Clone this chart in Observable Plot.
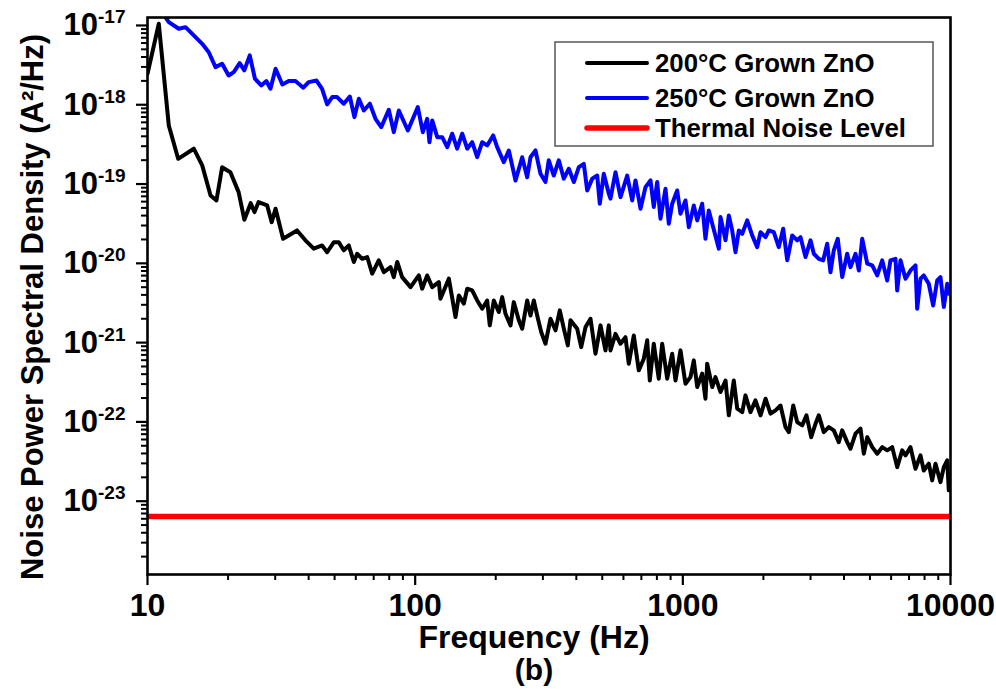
<!DOCTYPE html>
<html>
<head>
<meta charset="utf-8">
<script src="https://cdn.jsdelivr.net/npm/d3@7"></script>
<script src="https://cdn.jsdelivr.net/npm/@observablehq/plot@0.6"></script>
<style>
  html, body { margin: 0; padding: 0; background: #fff; }
  #chart { width: 996px; height: 690px; }
</style>
</head>
<body>
<div id="chart"></div>
<script>
// ---- Data ----
const freq200 = [10, 11.02, 12.01, 13.02, 14.89, 16.01, 17.2, 18.1, 19.0, 20.4,
  21.9, 23.0, 24.3, 25.1, 26.0, 28.0, 29.1, 30.1, 32.1, 36.2,
  38.9, 41.8, 44.9, 46.9, 49.7, 51.8, 54.1, 56.5, 59.0, 60.7,
  63.4, 66.2, 69.1, 73.1, 76.4, 80.9, 83.2, 85.7, 89.4, 96.1,
  103.2, 106.2, 110.9, 115.8, 122.6, 124.3, 133.6, 141.5, 145.6, 152.0,
  156.5, 163.3, 170.5, 178.0, 185.8, 190.0, 196.7, 205.3, 211.4, 217.5,
  227.1, 233.6, 243.9, 251.1, 262.1, 269.7, 277.5, 285.7, 295.7, 306.8,
  320.3, 334.4, 347.0, 359.2, 371.8, 380.5, 403.0, 417.2, 433.0, 451.9,
  471.8, 492.5, 514.0, 529, 536.7, 560.3, 584.9, 610.6, 628.2, 655.8,
  684.7, 714.8, 736.0, 752.6, 778.9, 813.1, 837.3, 874.1, 912.5, 938.9,
  980, 1023, 1068, 1099, 1132, 1181, 1215, 1233, 1288, 1324,
  1383, 1444, 1485, 1550, 1597, 1667, 1714, 1789, 1868, 1951,
  2037, 2126, 2220, 2317, 2419, 2489, 2585, 2675, 2792, 2897,
  3017, 3131, 3221, 3362, 3510, 3664, 3825, 3939, 4111, 4231,
  4418, 4611, 4745, 4886, 5101, 5324, 5558, 5802, 6056, 6322,
  6600, 6790, 7088, 7399, 7724, 7947, 8296, 8543, 8789, 9175,
  9441, 9721, 9854, 10000];
const psd200 = [2.46e-18, 1.05e-17, 5.48e-19, 2.08e-19, 2.79e-19, 1.72e-19, 7.18e-20, 6.21e-20, 1.63e-19, 1.41e-19,
  7.91e-20, 3.55e-20, 5.74e-20, 4.43e-20, 5.92e-20, 5.37e-20, 3.31e-20, 4.89e-20, 2.04e-20, 2.60e-20,
  1.95e-20, 1.53e-20, 1.68e-20, 1.38e-20, 1.85e-20, 1.85e-20, 1.46e-20, 1.68e-20, 1.04e-20, 1.32e-20,
  1.14e-20, 1.20e-20, 7.40e-21, 1.09e-20, 7.74e-21, 8.95e-21, 6.70e-21, 1.04e-20, 6.70e-21, 5.01e-21,
  7.03e-21, 4.79e-21, 7.03e-21, 5.01e-21, 5.79e-21, 3.58e-21, 6.40e-21, 2.10e-21, 3.94e-21, 3.10e-21,
  4.79e-21, 4.55e-21, 3.40e-21, 2.68e-21, 3.40e-21, 1.65e-21, 3.40e-21, 2.43e-21, 3.75e-21, 2.31e-21,
  1.65e-21, 3.24e-21, 1.91e-21, 1.50e-21, 3.40e-21, 2.20e-21, 3.40e-21, 2.20e-21, 1.36e-21, 9.68e-22,
  2.00e-21, 1.43e-21, 2.55e-21, 1.50e-21, 9.23e-22, 1.91e-21, 1.50e-21, 8.77e-22, 1.57e-21, 2.00e-21,
  7.24e-22, 1.65e-21, 7.98e-22, 1.65e-21, 7.98e-22, 1.29e-21, 9.68e-22, 1.17e-21, 5.42e-22, 1.23e-21,
  4.47e-22, 6.27e-22, 1.07e-21, 3.33e-22, 9.68e-22, 3.51e-22, 9.68e-22, 3.51e-22, 7.24e-22, 3.33e-22,
  7.98e-22, 3.03e-22, 3.67e-22, 5.97e-22, 2.75e-22, 4.06e-22, 1.96e-22, 5.42e-22, 2.75e-22, 3.67e-22,
  2.38e-22, 3.33e-22, 1.21e-22, 3.33e-22, 1.47e-22, 1.33e-22, 2.16e-22, 1.33e-22, 1.87e-22, 1.21e-22,
  1.96e-22, 1.27e-22, 1.40e-22, 1.61e-22, 8.59e-23, 7.43e-23, 1.61e-22, 9.93e-23, 9.04e-23, 1.21e-22,
  6.43e-23, 9.48e-23, 1.21e-22, 7.43e-23, 8.59e-23, 7.82e-23, 5.56e-23, 7.82e-23, 5.56e-23, 4.59e-23,
  7.10e-23, 8.20e-23, 3.97e-23, 6.43e-23, 4.81e-23, 3.97e-23, 4.81e-23, 4.38e-23, 4.81e-23, 2.69e-23,
  4.38e-23, 3.78e-23, 4.81e-23, 2.57e-23, 3.78e-23, 2.44e-23, 2.97e-23, 1.83e-23, 2.97e-23, 1.74e-23,
  2.69e-23, 3.27e-23, 1.37e-23, 2.11e-23];

const freq250 = [11.2, 12.01, 13.09, 13.87, 14.89, 16.01, 16.94, 17.95, 19.0, 20.1,
  21.0, 22.1, 23.0, 24.1, 25.2, 26.6, 27.8, 28.8, 30.1, 31.9,
  33.7, 35.7, 38.2, 40.0, 42.8, 44.9, 46.9, 49.0, 51.1, 54.1,
  57.0, 59.3, 61.6, 64.3, 67.7, 71.1, 74.7, 79.7, 83.2, 86.9,
  93.9, 102.3, 106.8, 110.9, 113.1, 115.8, 120.9, 126.2, 131.8, 137.5,
  143.5, 149.9, 156.5, 163.3, 170.5, 178.0, 185.8, 195.6, 202.5, 214.3,
  223.8, 237.1, 251.1, 262.1, 269.7, 281.5, 293.9, 306.8, 315.6, 329.5,
  344.0, 359.2, 375.0, 391.5, 408.7, 426.6, 439.3, 458.6, 478.7, 489.5,
  506.6, 529, 536.7, 560.3, 584.9, 619.6, 646.9, 665.5, 694.8, 725.3,
  757.2, 778.9, 802.1, 825.2, 861.4, 886.4, 912.5, 952.6, 980, 1023,
  1053, 1099, 1132, 1181, 1215, 1250, 1288, 1363, 1383, 1444,
  1485, 1529, 1573, 1619, 1667, 1740, 1816, 1896, 1951, 2037,
  2095, 2187, 2283, 2371, 2455, 2562, 2675, 2752, 2873, 2999,
  3086, 3221, 3345, 3462, 3562, 3664, 3792, 3939, 4111, 4231,
  4418, 4545, 4680, 4886, 5101, 5324, 5558, 5802, 5967, 6229,
  6322, 6504, 6790, 7088, 7399, 7508, 7724, 7947, 8296, 8616,
  8919, 9175, 9441, 9721, 9854, 10000];
const psd250 = [1.55e-17, 1.10e-17, 9.08e-18, 9.52e-18, 7.48e-18, 5.87e-18, 4.60e-18, 2.98e-18, 3.29e-18, 2.34e-18,
  2.58e-18, 3.35e-18, 2.71e-18, 4.19e-18, 2.13e-18, 1.75e-18, 1.99e-18, 1.59e-18, 2.84e-18, 1.80e-18,
  1.99e-18, 1.99e-18, 1.64e-18, 1.93e-18, 2.02e-18, 1.59e-18, 1.01e-18, 1.25e-18, 1.25e-18, 1.03e-18,
  1.27e-18, 6.98e-19, 1.19e-18, 8.47e-19, 1.03e-18, 6.65e-19, 5.22e-19, 8.65e-19, 4.51e-19, 8.47e-19,
  4.74e-19, 9.33e-19, 4.51e-19, 6.65e-19, 3.37e-19, 6.34e-19, 3.90e-19, 3.90e-19, 2.92e-19, 4.31e-19,
  2.79e-19, 4.31e-19, 2.79e-19, 3.37e-19, 2.18e-19, 3.37e-19, 3.07e-19, 4.10e-19, 2.92e-19, 1.89e-19,
  2.65e-19, 1.11e-19, 2.18e-19, 1.22e-19, 2.18e-19, 2.65e-19, 1.35e-19, 1.06e-19, 1.99e-19, 1.28e-19,
  1.99e-19, 1.17e-19, 1.56e-19, 1.06e-19, 1.63e-19, 1.80e-19, 8.30e-20, 1.17e-19, 1.28e-19, 5.65e-20,
  1.35e-19, 7.55e-20, 6.53e-20, 1.41e-19, 6.84e-20, 1.28e-19, 6.21e-20, 1.11e-19, 4.89e-20, 9.14e-20,
  1.11e-19, 5.12e-20, 1.06e-19, 3.65e-20, 8.73e-20, 3.16e-20, 5.65e-20, 8.30e-20, 4.22e-20, 6.21e-20,
  2.86e-20, 5.37e-20, 3.48e-20, 5.65e-20, 2.04e-20, 4.65e-20, 3.16e-20, 1.53e-20, 3.83e-20, 1.95e-20,
  4.02e-20, 2.60e-20, 1.38e-20, 2.60e-20, 2.36e-20, 3.48e-20, 2.25e-20, 1.60e-20, 2.47e-20, 2.14e-20,
  2.60e-20, 2.47e-20, 1.60e-20, 2.73e-20, 1.09e-20, 2.25e-20, 1.95e-20, 2.14e-20, 1.20e-20, 1.95e-20,
  1.32e-20, 1.14e-20, 1.09e-20, 1.77e-20, 7.74e-21, 1.46e-20, 2.04e-20, 6.70e-21, 1.32e-20, 8.95e-21,
  1.32e-20, 8.13e-21, 2.04e-20, 9.89e-21, 9.42e-21, 7.03e-21, 1.09e-20, 6.08e-21, 1.09e-20, 1.14e-20,
  4.55e-21, 1.09e-20, 6.40e-21, 8.13e-21, 9.42e-21, 2.68e-21, 6.40e-21, 7.03e-21, 5.53e-21, 2.94e-21,
  6.08e-21, 6.70e-21, 2.81e-21, 5.53e-21, 4.14e-21, 5.26e-21];

const thermalFreq = [10, 10000];
const thermalPsd = [6.43e-24, 6.43e-24];

const seriesNames = ["200°C Grown ZnO", "250°C Grown ZnO", "Thermal Noise Level"];
const seriesColors = ["#000000", "#0000ff", "#ff0000"];

const xMajorTicks = [10, 100, 1000, 10000];
const yMajorTicks = [1e-23, 1e-22, 1e-21, 1e-20, 1e-19, 1e-18, 1e-17];
const xDomain = [10, 10000];
const yDomain = [1.19e-24, 1.26e-17];

// ---- Build tables ----
const zip = (fs, ps) => fs.map((f, i) => ({f, p: ps[i]}));
const d200 = zip(freq200, psd200);
const d250 = zip(freq250, psd250);
const dTh = zip(thermalFreq, thermalPsd);

const xMinorTicks = [];
[10, 100, 1000].forEach(b => { for (let k = 2; k <= 9; k++) xMinorTicks.push(k * b); });
const yMinorTicks = [];
for (let e = -24; e <= -18; e++) for (let k = 2; k <= 9; k++) {
  const v = k * Math.pow(10, e);
  if (v >= yDomain[0] && v <= yDomain[1]) yMinorTicks.push(v);
}

const FONT = "'Liberation Sans', Arial, Helvetica, sans-serif";

const chart = Plot.plot({
  width: 996,
  height: 690,
  marginLeft: 147,
  marginRight: 46,
  marginTop: 17,
  marginBottom: 116,
  style: {fontFamily: FONT, fontWeight: "bold", background: "#ffffff", color: "#000"},
  x: {type: "log", domain: xDomain, label: null},
  y: {type: "log", domain: yDomain, label: null},
  marks: [
    Plot.line(dTh, {x: "f", y: "p", stroke: seriesColors[2], strokeWidth: 5.5, clip: true}),
    Plot.line(d250, {x: "f", y: "p", stroke: seriesColors[1], strokeWidth: 4, strokeLinejoin: "round", clip: true}),
    Plot.line(d200, {x: "f", y: "p", stroke: seriesColors[0], strokeWidth: 4, strokeLinejoin: "round", clip: true}),
    Plot.axisX({ticks: xMajorTicks, tickSize: 11, tickPadding: 8, strokeWidth: 2.2, fontSize: 32, tickFormat: d => String(d), label: null}),
    Plot.axisX({ticks: xMinorTicks, tickSize: 6, strokeWidth: 2, tickFormat: () => "", label: null}),
    Plot.axisY({ticks: yMajorTicks, tickSize: 11, tickPadding: 11, strokeWidth: 2.2, fontSize: 31, tickFormat: d => String(Math.round(Math.log10(d))), label: null}),
    Plot.axisY({ticks: yMinorTicks, tickSize: 6, strokeWidth: 2, tickFormat: () => "", label: null}),
    Plot.frame({stroke: "#000", strokeWidth: 2.6})
  ]
});

document.getElementById("chart").appendChild(chart);

const svg = d3.select(chart);

// Superscript powers-of-ten tick labels on the y axis
svg.selectAll('g[aria-label="y-axis tick label"] text').each(function() {
  const t = d3.select(this);
  const e = t.text();
  if (!e) return;
  t.text(null);
  t.append("tspan").text("10");
  t.append("tspan").attr("font-size", 19).attr("dy", -12).text(e);
});

// Axis titles
svg.append("text")
  .attr("x", 534).attr("y", 648)
  .attr("text-anchor", "middle")
  .attr("font-family", FONT).attr("font-weight", "bold").attr("font-size", 32)
  .text("Frequency (Hz)");
svg.append("text")
  .attr("x", 534).attr("y", 680)
  .attr("text-anchor", "middle")
  .attr("font-family", FONT).attr("font-weight", "bold").attr("font-size", 30)
  .text("(b)");
svg.append("text")
  .attr("transform", "translate(43,307) rotate(-90)")
  .attr("text-anchor", "middle")
  .attr("font-family", FONT).attr("font-weight", "bold").attr("font-size", 31)
  .text("Noise Power Spectral Density (A²/Hz)");

// Legend
const lg = svg.append("g").attr("aria-label", "legend");
lg.append("rect").attr("x", 555).attr("y", 42).attr("width", 378).attr("height", 104)
  .attr("fill", "#fff").attr("stroke", "#555").attr("stroke-width", 1.5);
const rowY = [63, 98, 128];
const rowW = [4, 4, 5.5];
seriesNames.forEach((name, i) => {
  lg.append("line").attr("x1", 587).attr("x2", 647).attr("y1", rowY[i]).attr("y2", rowY[i])
    .attr("stroke", seriesColors[i]).attr("stroke-width", rowW[i]).attr("stroke-linecap", "round");
  lg.append("text").attr("x", 655).attr("y", rowY[i] + 9)
    .attr("text-anchor", "start")
    .attr("font-family", FONT).attr("font-weight", "bold").attr("font-size", 25.8)
    .text(name);
});
</script>
</body>
</html>
